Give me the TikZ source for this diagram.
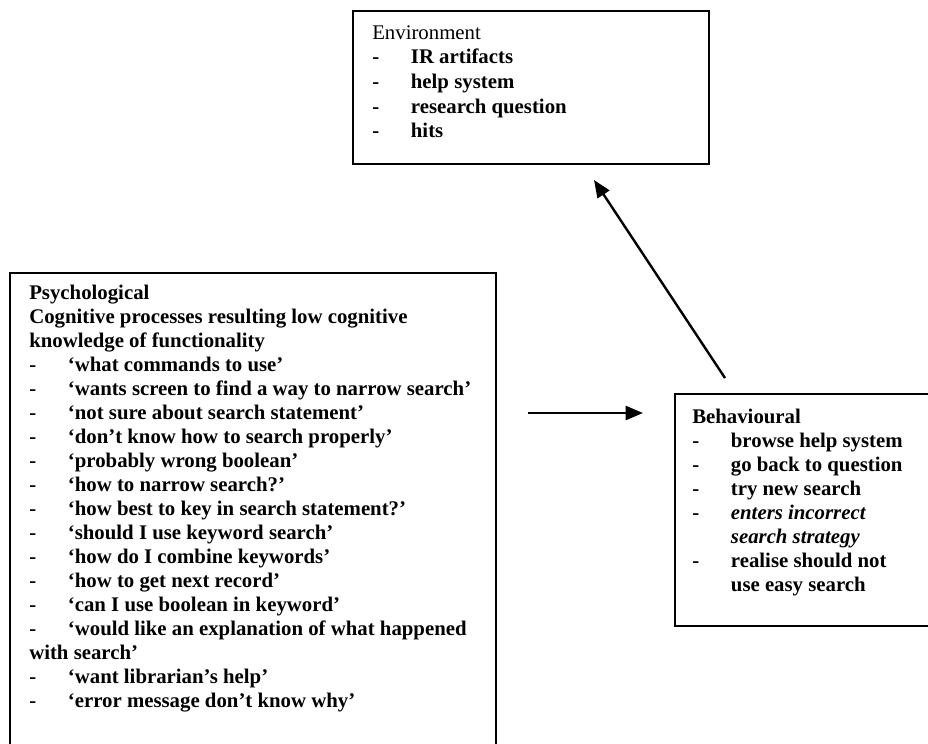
\documentclass[tikz,border=0pt]{standalone}
\usepackage{fontspec}
\setmainfont{Liberation Serif}
\usetikzlibrary{arrows.meta}
\newcommand\dashitem[1]{\makebox[29pt][l]{-}#1}
\newcommand\dashgap{\hspace*{29pt}}
\begin{document}
\begin{tikzpicture}[x=0.75pt,y=-0.75pt,
  frame/.style={draw, line width=1.4pt, inner sep=0pt, anchor=north west},
  body/.style={anchor=north west, inner sep=0pt, align=left,
    font=\fontsize{15.6}{18}\selectfont\bfseries},
  link/.style={line width=1.8pt, -{Triangle[length=13pt,width=10.5pt]}}]
\useasboundingbox (0,0) rectangle (928,743);
\clip (0,0) rectangle (928,743);

% frames
\node[frame, minimum width=267pt, minimum height=114.75pt] (env) at (352,10) {};
\node[frame, minimum width=364.5pt, minimum height=366pt] (psych) at (9,272) {};
\node[frame, minimum width=199.5pt, minimum height=174pt] (behav) at (674,393) {};

% contents
\node[body, font=\fontsize{15.6}{18.5}\selectfont\bfseries] (envtext) at (372,25) {%
  {\mdseries Environment}\\
  \dashitem{IR artifacts}\\
  \dashitem{help system}\\
  \dashitem{research question}\\
  \dashitem{hits}};

\node[body] (psychtext) at (29,285) {%
  Psychological\\
  Cognitive processes resulting low cognitive\\
  knowledge of functionality\\
  \dashitem{‘what commands to use’}\\
  \dashitem{‘wants screen to find a way to narrow search’}\\
  \dashitem{‘not sure about search statement’}\\
  \dashitem{‘don’t know how to search properly’}\\
  \dashitem{‘probably wrong boolean’}\\
  \dashitem{‘how to narrow search?’}\\
  \dashitem{‘how best to key in search statement?’}\\
  \dashitem{‘should I use keyword search’}\\
  \dashitem{‘how do I combine keywords’}\\
  \dashitem{‘how to get next record’}\\
  \dashitem{‘can I use boolean in keyword’}\\
  \dashitem{‘would like an explanation of what happened}\\
  with search’\\
  \dashitem{‘want librarian’s help’}\\
  \dashitem{‘error message don’t know why’}};

\node[body] (behavtext) at (692,409) {%
  Behavioural\\
  \dashitem{browse help system}\\
  \dashitem{go back to question}\\
  \dashitem{try new search}\\
  \dashitem{\itshape enters incorrect}\\
  \dashgap{\itshape search strategy}\\
  \dashitem{realise should not}\\
  \dashgap use easy search};

% connectors
\coordinate (hstart) at (528,413);
\coordinate (hend) at (643,413);
\coordinate (dstart) at (725,378);
\coordinate (dend) at (594,180);
\draw[link] (hstart) -- (hend);
\draw[link] (dstart) -- (dend);
\end{tikzpicture}
\end{document}
